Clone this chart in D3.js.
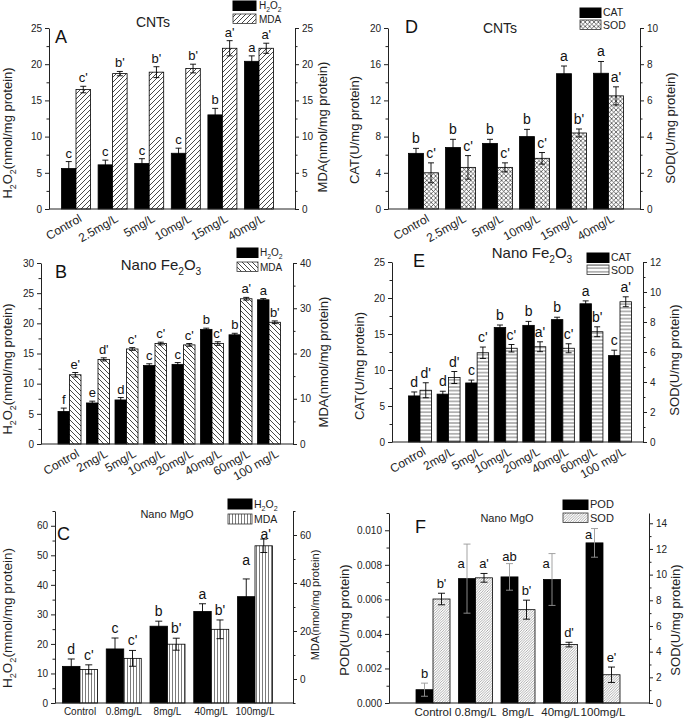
<!DOCTYPE html>
<html><head><meta charset="utf-8">
<script src="https://cdn.jsdelivr.net/npm/d3@7"></script>
<style>body{margin:0;background:#fff}svg{display:block;font-family:"Liberation Sans",Arial,sans-serif}</style>
</head><body>
<svg id="c" width="685" height="721"></svg>
<script>
// ---------- DATA ----------
const catsCNT = ["Control","2.5mg/L","5mg/L","10mg/L","15mg/L","40mg/L"];
const catsFe = ["Control","2mg/L","5mg/L","10mg/L","20mg/L","40mg/L","60mg/L","100 mg/L"];
const catsMg = ["Control","0.8mg/L","8mg/L","40mg/L","100mg/L"];

// Panel A (CNTs): H2O2 and MDA
const aH2O2 = [5.6, 6.1, 6.3, 7.7, 13.0, 20.4];
const aH2O2Err = [0.95, 0.65, 0.65, 0.7, 0.9, 0.75];
const aMDA = [16.5, 18.7, 18.9, 19.4, 22.2, 22.2];
const aMDAErr = [0.45, 0.3, 0.75, 0.6, 1.05, 0.7];
const aH2O2Sig = ["c","c","c","c","b","a"];
const aMDASig = ["c'","b'","b'","b'","a'","a'"];

// Panel D (CNTs): CAT and SOD
const dCAT = [6.15, 6.8, 7.25, 8.0, 14.95, 15.0];
const dCATErr = [0.55, 0.9, 0.45, 0.8, 0.85, 1.3];
const dSOD = [2.0, 2.3, 2.3, 2.8, 4.2, 6.25];
const dSODErr = [0.55, 0.65, 0.25, 0.32, 0.22, 0.5];
const dCATSig = ["b","b","b","b","a","a"];
const dSODSig = ["c'","c'","c'","c'","b'","a'"];

// Panel B (Nano Fe2O3): H2O2 and MDA
const bH2O2 = [5.4, 6.8, 7.3, 13.0, 13.2, 19.0, 18.1, 23.9];
const bH2O2Err = [0.55, 0.3, 0.4, 0.3, 0.3, 0.2, 0.25, 0.2];
const bMDA = [15.3, 18.7, 21.0, 22.2, 21.9, 22.2, 32.1, 26.9];
const bMDAErr = [0.5, 0.35, 0.3, 0.3, 0.3, 0.4, 0.3, 0.3];
const bH2O2Sig = ["f","e","d","c","c","b","b","a"];
const bMDASig = ["e'","d'","c'","c'","c'","c'","a'","b'"];

// Panel E (Nano Fe2O3): CAT and SOD
const eCAT = [6.4, 6.65, 8.2, 15.9, 16.2, 17.0, 19.2, 12.0];
const eCATErr = [0.55, 0.4, 0.4, 0.35, 0.55, 0.33, 0.4, 0.75];
const eSOD = [3.45, 4.3, 5.95, 6.25, 6.35, 6.25, 7.35, 9.35];
const eSODErr = [0.5, 0.4, 0.38, 0.25, 0.33, 0.3, 0.33, 0.33];
const eCATSig = ["d","d","c","b","b","b","a","c"];
const eSODSig = ["d'","d'","c'","c'","a'","c'","b'","a'"];

// Panel C (Nano MgO): H2O2 and MDA
const cH2O2 = [12.4, 18.3, 26.0, 31.0, 36.0];
const cH2O2Err = [2.5, 3.7, 1.7, 2.6, 6.0];
const cMDA = [4.0, 8.6, 14.5, 20.7, 55.5];
const cMDAErr = [1.9, 3.3, 2.5, 3.9, 2.8];
const cH2O2Sig = ["d","c","b","a","a"];
const cMDASig = ["c'","c'","b'","b'","a'"];

// Panel F (Nano MgO): POD and SOD
const fPOD = [0.00077, 0.0072, 0.0073, 0.00715, 0.00927];
const fPODErr = [0.00038, 0.002, 0.00077, 0.0015, 0.00083];
const fSOD = [8.1, 9.75, 7.27, 4.55, 2.2];
const fSODErr = [0.45, 0.34, 0.74, 0.18, 0.6];
const fPODSig = ["b","a","ab","a","a"];
const fSODSig = ["b'","a'","b'","d'","e'"];

// ---------- DRAW ----------
const svg = d3.select("#c");
const defs = svg.append("defs");
function pat(id, w, h, d, stroke, sw) {
  const p = defs.append("pattern").attr("id", id).attr("patternUnits", "userSpaceOnUse")
    .attr("width", w).attr("height", h);
  p.append("rect").attr("width", w).attr("height", h).attr("fill", "#fff");
  p.append("path").attr("d", d).attr("stroke", stroke).attr("stroke-width", sw).attr("fill", "none");
}
pat("pA", 5, 5, "M-1,1 l2,-2 M0,5 l5,-5 M4,6 l2,-2", "#333", 0.9);
pat("pD", 4.4, 4.4, "M0,0 L4.4,4.4 M0,4.4 L4.4,0", "#333", 0.7);
pat("pB", 5, 5, "M0,0 l5,5 M-1,4 l2,2 M4,-1 l2,2", "#333", 0.9);
pat("pE", 4, 3.6, "M0,1.8 L4,1.8", "#444", 0.8);
pat("pC", 3, 4, "M1.5,0 L1.5,4", "#444", 0.7);
pat("pF", 2.6, 2.6, "M-0.65,0.65 l1.3,-1.3 M0,2.6 l2.6,-2.6 M1.95,3.25 l1.3,-1.3", "#777", 0.6);

function rich(t, str, fs) {
  const parts = str.split(/(_.)/);
  let sub = false;
  parts.forEach(p => {
    if (!p) return;
    if (p[0] === "_" && p.length === 2) {
      t.append("tspan").attr("font-size", fs * 0.68).attr("dy", sub ? 0 : fs * 0.3).text(p[1]);
      sub = true;
    } else {
      t.append("tspan").attr("dy", sub ? -fs * 0.3 : 0).text(p);
      sub = false;
    }
  });
  return t;
}

function panel(c) {
  const g = svg.append("g");
  const x = d3.scalePoint().domain(c.cats).range([c.c0, c.c1]);
  const yL = d3.scaleLinear().domain(c.lDom).range([c.yB, c.yT]);
  const yR = d3.scaleLinear().domain(c.rDom).range([c.yB, c.yT]);
  const bw = c.bw;
  const series = [
    {v: c.s1, e: c.e1, sig: c.sig1, y: yL, fill: "#000", off: -bw, ecol: c.e1col || "#000", adj: c.adj1 || []},
    {v: c.s2, e: c.e2, sig: c.sig2, y: yR, fill: "url(#" + c.pat + ")", off: 0, ecol: "#000", adj: c.adj2 || []}
  ];
  series.forEach(s => {
    const gs = g.append("g");
    gs.selectAll("rect").data(s.v).join("rect")
      .attr("x", (d, i) => x(c.cats[i]) + s.off)
      .attr("width", bw)
      .attr("y", d => s.y(d))
      .attr("height", d => c.yB - s.y(d))
      .attr("fill", s.fill).attr("stroke", "#000").attr("stroke-width", 0.8);
    const eb = gs.selectAll("g.eb").data(s.v).join("g");
    eb.append("line")
      .attr("x1", (d, i) => x(c.cats[i]) + s.off + bw / 2)
      .attr("x2", (d, i) => x(c.cats[i]) + s.off + bw / 2)
      .attr("y1", (d, i) => s.y(d - s.e[i])).attr("y2", (d, i) => s.y(d + s.e[i]))
      .attr("stroke", s.ecol).attr("stroke-width", 0.9);
    [-1, 1].forEach(sg => {
      eb.append("line")
        .attr("x1", (d, i) => x(c.cats[i]) + s.off + bw / 2 - c.cap)
        .attr("x2", (d, i) => x(c.cats[i]) + s.off + bw / 2 + c.cap)
        .attr("y1", (d, i) => s.y(d + sg * s.e[i])).attr("y2", (d, i) => s.y(d + sg * s.e[i]))
        .attr("stroke", s.ecol).attr("stroke-width", 0.9);
    });
    gs.selectAll("text").data(s.v).join("text")
      .attr("x", (d, i) => x(c.cats[i]) + s.off + bw / 2 + ((s.adj[i] || [0, 0])[0]))
      .attr("y", (d, i) => s.y(d + s.e[i]) - c.sigGap + ((s.adj[i] || [0, 0])[1]))
      .attr("text-anchor", "middle").attr("font-size", c.sigFs).attr("fill", "#111")
      .text((d, i) => s.sig[i]);
  });
  // axes
  const ax = g.append("g").attr("font-size", c.tickFs);
  ax.append("g").attr("transform", `translate(${c.xL},0)`)
    .call(d3.axisLeft(yL).tickValues(c.lTicks).tickFormat(c.lFmt).tickSize(4).tickSizeOuter(0).tickPadding(3));
  ax.append("g").attr("transform", `translate(${c.xL},0)`)
    .call(d3.axisLeft(yL).tickValues(c.lMinor).tickFormat("").tickSize(2.5).tickSizeOuter(0))
    .select(".domain").remove();
  ax.append("g").attr("transform", `translate(${c.xR},0)`).attr("font-size", c.rTickFs || c.tickFs)
    .call(d3.axisRight(yR).tickValues(c.rTicks).tickFormat(c.rFmt).tickSize(4).tickSizeOuter(0).tickPadding(3));
  ax.append("g").attr("transform", `translate(${c.xR},0)`)
    .call(d3.axisRight(yR).tickValues(c.rMinor).tickFormat("").tickSize(2.5).tickSizeOuter(0))
    .select(".domain").remove();
  ax.selectAll("g").attr("font-family", null);
  ax.selectAll("text").attr("fill", "#222");
  ax.selectAll("line,path").attr("stroke", "#222");
  g.append("line").attr("x1", c.xL).attr("x2", c.xR).attr("y1", c.yB).attr("y2", c.yB)
    .attr("stroke", "#222").attr("stroke-width", 1);
  // x labels
  const xl = g.append("g").attr("font-size", c.xFs).attr("fill", "#222");
  if (c.rot) {
    xl.selectAll("text").data(c.cats).join("text")
      .attr("transform", d => `translate(${x(d) + c.xOff},${c.yB + c.xDy}) rotate(${c.rot})`)
      .attr("text-anchor", "end").attr("dy", "0.75em").text(d => d);
  } else {
    xl.selectAll("text").data(c.cats).join("text")
      .attr("x", d => x(d)).attr("y", c.xBase).attr("text-anchor", "middle").text(d => d);
  }
  // titles
  rich(g.append("text").attr("transform", `translate(${c.lt[0]},${c.lt[1]}) rotate(-90)`)
    .attr("text-anchor", "middle").attr("font-size", c.ltFs).attr("dy", "0.35em").attr("fill", "#222"), c.lTitle, c.ltFs);
  rich(g.append("text").attr("transform", `translate(${c.rt[0]},${c.rt[1]}) rotate(-90)`)
    .attr("text-anchor", "middle").attr("font-size", c.rtFs).attr("dy", "0.35em").attr("fill", "#222"), c.rTitle, c.rtFs);
  rich(g.append("text").attr("x", c.title[0]).attr("y", c.title[1]).attr("text-anchor", "middle")
    .attr("font-size", c.titleFs).attr("fill", "#222"), c.titleText, c.titleFs);
  g.append("text").attr("x", c.letter[0]).attr("y", c.letter[1]).attr("font-size", 18).attr("fill", "#111").text(c.letterText);
  // legend
  const L = c.leg;
  g.append("rect").attr("x", L.x).attr("y", L.y1).attr("width", L.w).attr("height", L.h).attr("fill", "#000").attr("stroke", "#000");
  g.append("rect").attr("x", L.x).attr("y", L.y2).attr("width", L.w).attr("height", L.h).attr("fill", "url(#" + c.pat + ")").attr("stroke", "#333").attr("stroke-width", 0.8);
  rich(g.append("text").attr("x", L.tx).attr("y", L.y1 + L.h - 1.5).attr("font-size", L.fs).attr("fill", "#222"), c.n1, L.fs);
  rich(g.append("text").attr("x", L.tx).attr("y", L.y2 + L.h - 1).attr("font-size", L.fs).attr("fill", "#222"), c.n2, L.fs);
}

const f0 = d3.format("d");
const range = (a, b, s) => d3.range(a, b + s / 2, s);

panel({cats: catsCNT, s1: aH2O2, e1: aH2O2Err, sig1: aH2O2Sig, s2: aMDA, e2: aMDAErr, sig2: aMDASig,
  n1: "H_2O_2", n2: "MDA", pat: "pA",
  xL: 49, xR: 295, yB: 209, yT: 28, c0: 76, c1: 259, bw: 14.5, cap: 3,
  lDom: [0, 25], lTicks: range(0, 25, 5), lMinor: range(2.5, 22.5, 5), lFmt: f0,
  rDom: [0, 25], rTicks: range(0, 25, 5), rMinor: range(2.5, 22.5, 5), rFmt: f0,
  tickFs: 12, sigFs: 13, sigGap: 4, xFs: 12, rot: -30, xOff: 2, xDy: 4,
  lTitle: "H_2O_2(nmol/mg protein)", ltFs: 13, lt: [12, 133],
  rTitle: "MDA(nmol/mg protein)", rtFs: 13, rt: [327, 127],
  titleText: "CNTs", titleFs: 14, title: [153, 27], letterText: "A", letter: [55, 43],
  leg: {x: 233, y1: 1, y2: 14, w: 23, h: 9.5, tx: 259, fs: 10}});

panel({cats: catsCNT, s1: dCAT, e1: dCATErr, sig1: dCATSig, s2: dSOD, e2: dSODErr, sig2: dSODSig,
  n1: "CAT", n2: "SOD", pat: "pD",
  xL: 388, xR: 640, yB: 209, yT: 28, c0: 423.5, c1: 608.5, bw: 15, cap: 3,
  lDom: [0, 20], lTicks: range(0, 20, 4), lMinor: range(2, 18, 4), lFmt: f0,
  rDom: [0, 10], rTicks: range(0, 10, 2), rMinor: range(1, 9, 2), rFmt: f0,
  tickFs: 12, sigFs: 14, sigGap: 5, xFs: 12, rot: -30, xOff: 2, xDy: 4,
  lTitle: "CAT(U/mg protein)", ltFs: 13, lt: [359, 130],
  rTitle: "SOD(U/mg protein)", rtFs: 13, rt: [675, 128],
  titleText: "CNTs", titleFs: 14, title: [500, 33], letterText: "D", letter: [405, 33],
  leg: {x: 580, y1: 8, y2: 20, w: 21, h: 9.5, tx: 603, fs: 10.5}});

panel({cats: catsFe, s1: bH2O2, e1: bH2O2Err, sig1: bH2O2Sig, s2: bMDA, e2: bMDAErr, sig2: bMDASig,
  n1: "H_2O_2", n2: "MDA", pat: "pB",
  xL: 41, xR: 293, yB: 444, yT: 263, c0: 69.5, c1: 269, bw: 11.5, cap: 3,
  lDom: [0, 30], lTicks: range(0, 30, 5), lMinor: range(2.5, 27.5, 5), lFmt: f0,
  rDom: [0, 40], rTicks: range(0, 40, 10), rMinor: range(5, 35, 10), rFmt: f0,
  tickFs: 12, sigFs: 13, sigGap: 4, xFs: 12, rot: -30, xOff: 6, xDy: 4,
  lTitle: "H_2O_2(nmol/mg protein)", ltFs: 13, lt: [12, 369],
  rTitle: "MDA(nmol/mg protein)", rtFs: 13, rt: [328, 362],
  titleText: "Nano Fe_2O_3", titleFs: 15, title: [161, 270], letterText: "B", letter: [55, 278],
  leg: {x: 237, y1: 248, y2: 262, w: 21, h: 9.5, tx: 260, fs: 10}});

panel({cats: catsFe, s1: eCAT, e1: eCATErr, sig1: eCATSig, s2: eSOD, e2: eSODErr, sig2: eSODSig,
  n1: "CAT", n2: "SOD", pat: "pE",
  xL: 392, xR: 643, yB: 442, yT: 262, c0: 420, c1: 620, bw: 11.5, cap: 3,
  lDom: [0, 25], lTicks: range(0, 25, 5), lMinor: range(2.5, 22.5, 5), lFmt: f0,
  rDom: [0, 12], rTicks: range(0, 12, 2), rMinor: range(1, 11, 2), rFmt: f0,
  tickFs: 12, sigFs: 14, sigGap: 5, xFs: 12, rot: -30, xOff: 2, xDy: 4,
  lTitle: "CAT(U/mg protein)", ltFs: 13, lt: [364, 366],
  rTitle: "SOD(U/mg protein)", rtFs: 13, rt: [679, 360],
  titleText: "Nano Fe_2O_3", titleFs: 15, title: [532, 258], letterText: "E", letter: [413, 267],
  leg: {x: 587, y1: 253, y2: 265, w: 22, h: 9.5, tx: 611, fs: 10.5}});

panel({cats: catsMg, s1: cH2O2, e1: cH2O2Err, sig1: cH2O2Sig, s2: cMDA, e2: cMDAErr, sig2: cMDASig,
  n1: "H_2O_2", n2: "MDA", pat: "pC",
  xL: 55, xR: 293, yB: 703, yT: 511, c0: 80, c1: 255, bw: 17.5, cap: 3.5,
  lDom: [0, 65], lTicks: range(0, 60, 10), lMinor: range(5, 65, 10), lFmt: f0,
  rDom: [-10, 70], rTicks: range(0, 60, 20), rMinor: range(-10, 70, 20), rFmt: f0,
  tickFs: 13, rTickFs: 10, sigFs: 14, sigGap: 5, xFs: 10, rot: 0, xBase: 715,
  adj1: [null, null, null, null, [0, -9]], adj2: [null, null, null, null, [2, 5]],
  lTitle: "H_2O_2(mmol/mg protein)", ltFs: 13.5, lt: [12, 618],
  rTitle: "MDA(nmol/mg protein)", rtFs: 11, rt: [319, 605],
  titleText: "Nano MgO", titleFs: 11, title: [167, 518], letterText: "C", letter: [57, 540],
  leg: {x: 228, y1: 499, y2: 514, w: 24, h: 10, tx: 254, fs: 10.5}});

panel({cats: catsMg, s1: fPOD, e1: fPODErr, sig1: fPODSig, s2: fSOD, e2: fSODErr, sig2: fSODSig,
  n1: "POD", n2: "SOD", pat: "pF", e1col: "#999",
  xL: 389, xR: 649, yB: 703, yT: 513, c0: 433, c1: 603, bw: 17, cap: 3.5,
  lDom: [0, 0.011], lTicks: range(0, 0.01, 0.002), lMinor: range(0.001, 0.011, 0.002), lFmt: d3.format(".3f"),
  rDom: [0, 14.8], rTicks: range(0, 14, 2), rMinor: range(1, 13, 2), rFmt: f0,
  tickFs: 13, sigFs: 13, sigGap: 5, xFs: 11.5, rot: 0, xBase: 716,
  adj1: [null, [-6, 29], [0, 2], [-6, 19], [-6, 15]],
  lTitle: "POD(U/mg protein)", ltFs: 13, lt: [349, 620],
  rTitle: "SOD(U/mg protein)", rtFs: 13, rt: [680, 620],
  titleText: "Nano MgO", titleFs: 11, title: [507, 522], letterText: "F", letter: [415, 533],
  leg: {x: 563, y1: 500, y2: 513, w: 25, h: 9.5, tx: 590, fs: 11}});
</script>
</body></html>
